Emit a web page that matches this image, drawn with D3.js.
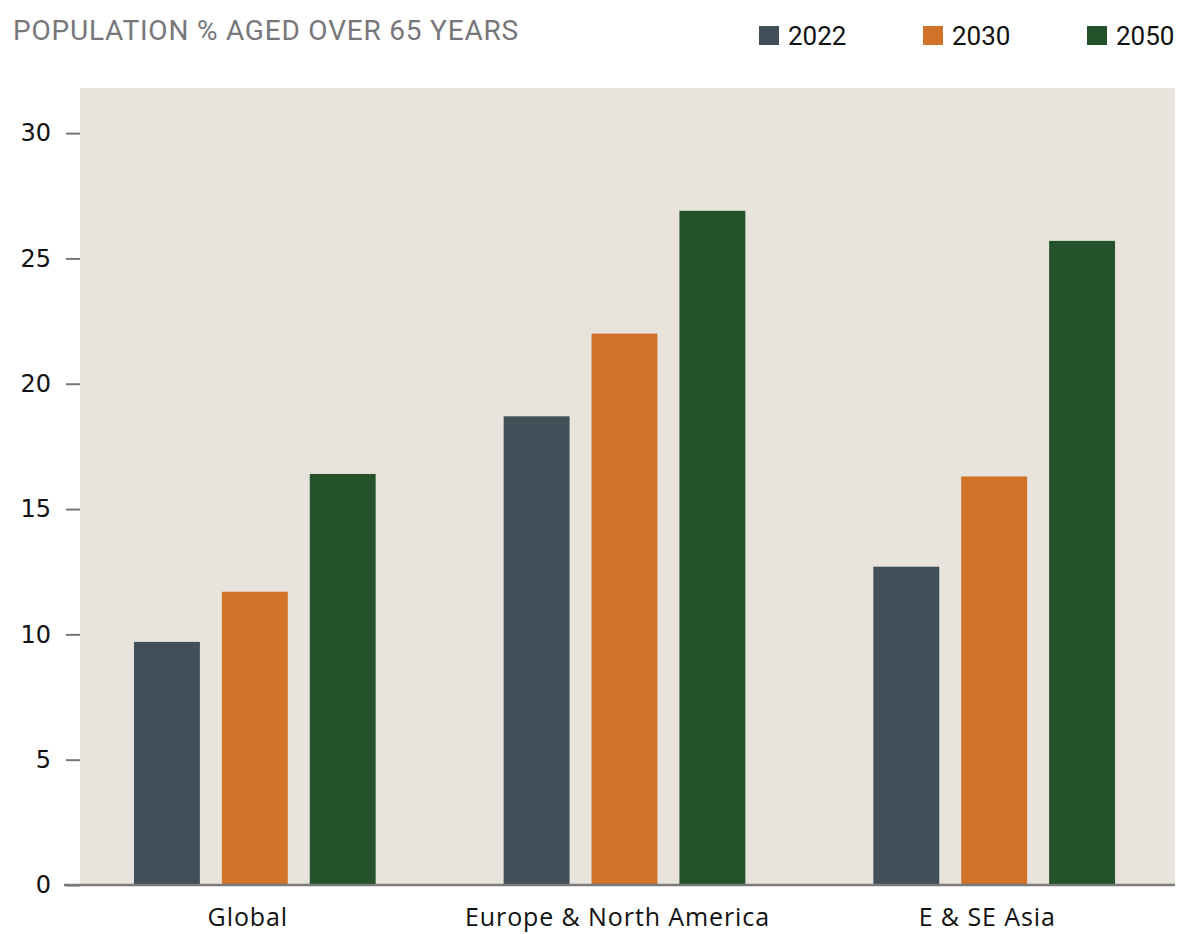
<!DOCTYPE html>
<head>
  <meta charset="utf-8">
  <script src="https://d3js.org/d3.v7.min.js"></script>
  <style>
    body { margin: 0; background: #fff; }
    .tick line { stroke: #777; stroke-width: 2px; }
    .yaxis text { font-family: "DejaVu Sans", sans-serif; font-size: 24px; fill: #111; }
    .xaxis text { font-family: "Open Sans", sans-serif; font-size: 25px; letter-spacing: 0.9px; fill: #111; }
  </style>
</head>

<body>
  <script>

    var categories = ["Global", "Europe & North America", "E & SE Asia"];
    var years = ["2022", "2030", "2050"];
    var v2022 = [9.7, 18.7, 12.7];
    var v2030 = [11.7, 22.0, 16.3];
    var v2050 = [16.4, 26.9, 25.7];
    var yTicks = [0, 5, 10, 15, 20, 25, 30];
    var colors = ["#414f58", "#d07227", "#23522b"];

    var series = [v2022, v2030, v2050];

    var svg = d3.select("body").append("svg")
      .attr("width", 1182)
      .attr("height", 934);

    var plotLeft = 80, plotRight = 1175, plotTop = 88, plotBottom = 885;

    // plot background
    svg.append("rect")
      .attr("x", plotLeft)
      .attr("y", plotTop)
      .attr("width", plotRight - plotLeft)
      .attr("height", plotBottom - plotTop)
      .style("fill", "#e8e3dc");

    var y = d3.scaleLinear()
      .domain([0, 31.8])
      .range([plotBottom, plotTop]);

    var x0 = d3.scaleBand()
      .domain(categories)
      .range([plotLeft, plotRight])
      .paddingInner(0.33)
      .paddingOuter(0.146);

    var x1 = d3.scaleBand()
      .domain(years)
      .range([0, x0.bandwidth() - 6])
      .paddingInner(0.25);

    var color = d3.scaleOrdinal().domain(years).range(colors);

    // title
    svg.append("text")
      .text("POPULATION % AGED OVER 65 YEARS")
      .attr("x", 13)
      .attr("y", 40)
      .style("font-family", "Roboto, sans-serif")
      .style("font-size", "28px")
      .style("font-weight", 400)
      .style("letter-spacing", "0.8px")
      .style("fill", "#77777a");

    // legend
    var legend = svg.selectAll(".legend").data(years).enter()
      .append("g")
      .attr("class", "legend")
      .attr("transform", function(d, i) { return "translate(" + (759 + i * 164) + ",0)"; });

    legend.append("rect")
      .attr("y", 26)
      .attr("width", 20)
      .attr("height", 19)
      .style("fill", function(d) { return color(d); });

    legend.append("text")
      .text(function(d) { return d; })
      .attr("x", 29)
      .attr("y", 45)
      .style("font-family", "Roboto, sans-serif")
      .style("font-size", "26px")
      .style("fill", "#111");

    // bars
    var groups = svg.selectAll(".group").data(categories).enter()
      .append("g")
      .attr("class", "group")
      .attr("transform", function(d) { return "translate(" + x0(d) + ",0)"; });

    groups.selectAll("rect")
      .data(function(d, i) {
        return years.map(function(yr, j) { return { year: yr, value: series[j][i] }; });
      })
      .enter().append("rect")
      .attr("x", function(d) { return x1(d.year); })
      .attr("y", function(d) { return y(d.value); })
      .attr("width", x1.bandwidth())
      .attr("height", function(d) { return y(0) - y(d.value); })
      .style("fill", function(d) { return color(d.year); });

    // y axis
    svg.append("g")
      .attr("class", "yaxis")
      .attr("transform", "translate(" + plotLeft + ",0)")
      .call(d3.axisLeft(y).tickValues(yTicks).tickSize(14).tickPadding(15))
      .call(function(g) { g.select(".domain").remove(); });

    // baseline
    svg.append("line")
      .attr("x1", 64)
      .attr("x2", plotRight)
      .attr("y1", y(0))
      .attr("y2", y(0))
      .style("stroke", "#7a7a7a")
      .style("stroke-width", 2.5);

    // x axis labels
    svg.append("g")
      .attr("class", "xaxis")
      .attr("transform", "translate(0," + plotBottom + ")")
      .call(d3.axisBottom(x0).tickSize(0).tickPadding(23))
      .call(function(g) { g.select(".domain").remove(); })
      .selectAll("text")
      .attr("dx", -10)
      .attr("dy", "0.71em");

  </script>
</body>
